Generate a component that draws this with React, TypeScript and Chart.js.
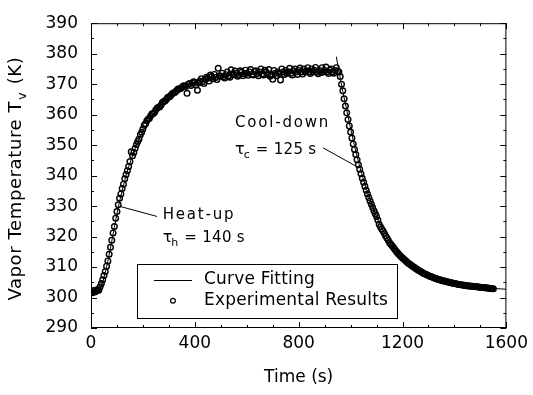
import React, { useEffect, useRef } from "react";
import { Chart, registerables } from "chart.js";

Chart.register(...registerables);

// ---------- data ----------
const expTime = [
  0, 5, 10, 15, 20, 25, 30, 35, 40, 45, 50, 55, 60, 65, 70, 75, 80, 85, 90, 95,
  100, 105, 110, 115, 120, 125, 130, 135, 140, 145, 150, 155, 160, 165, 170, 175, 180, 185, 190, 195, 200,
  210, 220, 230, 240, 250, 260, 270, 280, 290, 300, 310, 320, 330, 340, 350, 360, 370, 380, 390,
  400, 410, 420, 430, 440, 450, 460, 470, 480, 490, 500, 510, 520, 530, 540, 550, 560, 570, 580, 590,
  600, 610, 620, 630, 640, 650, 660, 670, 680, 690, 700, 710, 720, 730, 740, 750, 760, 770, 780, 790,
  800, 810, 820, 830, 840, 850, 860, 870, 880, 890, 900, 910, 920, 930, 940, 950,
  955, 960, 965, 970, 975, 980, 985, 990, 995, 1000, 1005, 1010, 1015, 1020, 1025, 1030, 1035, 1040,
  1045, 1050, 1055, 1060, 1065, 1070, 1075, 1080, 1085, 1090, 1095, 1100,
  1110, 1120, 1130, 1140, 1150, 1160, 1170, 1180, 1190, 1200, 1210, 1220, 1230, 1240, 1250, 1260,
  1270, 1280, 1290, 1300, 1310, 1320, 1330, 1340, 1350, 1360, 1370, 1380, 1390, 1400, 1410, 1420,
  1430, 1440, 1450, 1460, 1470, 1480, 1490, 1500, 1510, 1520, 1530, 1540, 1550,
];
const expTemp = [
  302.0, 301.6, 302.3, 301.8, 302.1, 302.6, 302.4, 303.5, 304.6, 305.8, 307.2, 308.5, 310.3, 312.0, 314.2, 316.5, 318.8, 321.2, 323.3, 326.0,
  328.2, 330.4, 332.6, 334.0, 335.8, 337.2, 339.0, 340.4, 341.6, 343.0, 344.6, 347.8, 346.5, 347.6, 349.0, 350.2, 351.2, 352.0, 353.4, 354.2, 355.3,
  357.0, 358.5, 359.6, 360.4, 361.6, 362.4, 363.2, 364.3, 365.0, 365.8, 366.6, 367.2, 367.9, 368.4, 368.9, 369.5, 367.0, 370.2, 370.4,
  370.6, 368.0, 371.0, 370.8, 371.6, 371.9, 373.0, 371.8, 372.2, 375.2, 372.6, 372.4, 373.1, 372.7, 374.7, 373.1, 373.5, 373.0, 373.9, 373.4,
  373.6, 374.0, 373.2, 374.1, 373.5, 374.0, 373.4, 374.6, 373.2, 372.6, 371.6, 373.6, 374.0, 371.4, 374.0, 374.5, 374.1, 373.6, 374.4, 374.0,
  374.5, 374.0, 375.0, 374.4, 374.0, 375.0, 374.6, 374.0, 374.5, 375.4, 374.5, 374.1, 374.6, 374.0, 374.5, 374.3,
  374.0, 372.5, 370.0, 367.8, 365.2, 362.8, 360.6, 358.4, 356.3, 354.3, 352.3, 350.4, 348.6, 346.9, 345.2, 343.6, 342.1, 340.6,
  339.1, 337.8, 336.5, 335.2, 334.0, 332.8, 331.7, 330.6, 329.5, 328.5, 327.5, 326.6,
  324.0, 322.5, 321.0, 319.5, 318.0, 317.0, 315.8, 314.8, 313.8, 313.0, 312.2, 311.4, 310.8, 310.2, 309.6, 309.0,
  308.5, 308.0, 307.6, 307.2, 306.8, 306.5, 306.2, 305.9, 305.6, 305.4, 305.2, 305.0, 304.8, 304.6, 304.4, 304.3,
  304.1, 304.0, 303.9, 303.8, 303.7, 303.6, 303.5, 303.4, 303.3, 303.2, 303.1, 303.0, 302.9,
];
// second, interleaved set of samples (the band in the plot is dense)
const expTime2 = [
  205, 215, 225, 235, 245, 255, 265, 275, 285, 295, 305, 315, 325, 335, 345, 355, 365, 375, 385, 395,
  405, 415, 425, 435, 445, 455, 465, 475, 485, 495, 505, 515, 525, 535, 545, 555, 565, 575, 585, 595,
  605, 615, 625, 635, 645, 655, 665, 675, 685, 695, 705, 715, 725, 735, 745, 755, 765, 775, 785, 795,
  805, 815, 825, 835, 845, 855, 865, 875, 885, 895, 905, 915, 925, 935, 945,
  1105, 1115, 1125, 1135, 1145, 1155, 1165, 1175, 1185, 1195, 1205, 1215, 1225, 1235, 1245, 1255,
  1265, 1275, 1285, 1295, 1305, 1315, 1325, 1335, 1345, 1355, 1365, 1375, 1385, 1395, 1405, 1415,
  1425, 1435, 1445, 1455, 1465, 1475, 1485, 1495, 1505, 1515, 1525, 1535, 1545,
];
const expTemp2 = [
  356.5, 358.0, 358.8, 360.3, 360.8, 362.2, 362.6, 364.0, 364.5, 365.6, 366.0, 367.0, 367.4, 368.4, 368.6, 369.4, 369.2, 370.0, 369.6, 370.8,
  369.8, 370.5, 371.8, 370.2, 372.3, 371.0, 372.5, 373.2, 371.5, 372.8, 373.6, 372.0, 374.0, 372.3, 373.3, 374.3, 372.6, 374.4, 372.8, 374.6,
  372.9, 374.8, 373.0, 374.4, 372.8, 375.0, 373.0, 374.0, 374.8, 373.0, 374.5, 372.8, 373.5, 375.0, 373.2, 373.5, 375.2, 373.0, 375.0, 373.2,
  375.3, 373.3, 374.0, 375.4, 373.5, 374.0, 375.5, 373.4, 373.8, 374.0, 375.6, 373.5, 375.0, 373.6, 375.4,
  325.4, 323.2, 321.8, 320.2, 318.8, 317.5, 316.4, 315.3, 314.3, 313.4, 312.6, 311.8, 311.1, 310.5, 309.9, 309.3,
  308.8, 308.3, 307.8, 307.4, 307.0, 306.7, 306.3, 306.0, 305.8, 305.5, 305.3, 305.1, 304.9, 304.7, 304.5, 304.3,
  304.2, 304.0, 303.9, 303.8, 303.7, 303.6, 303.5, 303.4, 303.3, 303.2, 303.1, 303.0, 302.9,
];

const fitHeatTime = [0, 30, 40, 50, 60, 70, 80, 90, 100, 110, 120, 140, 160, 180, 200, 230, 260, 300, 350, 400, 450, 500, 600, 700, 800, 945];
const fitHeatTemp = [302, 302, 303.5, 306.5, 310, 314, 318.5, 323, 327.5, 331.5, 335, 341.5, 346.5, 351, 354.5, 359, 362.5, 366, 368.8, 370.7, 371.9, 372.7, 373.5, 374, 374.3, 374.5];

const fitCoolTime = [945, 960, 980, 1000, 1020, 1040, 1060, 1080, 1100, 1130, 1160, 1200, 1250, 1300, 1350, 1400, 1450, 1500, 1550, 1600];
const fitCoolTemp = [379, 372, 363.5, 355.5, 348, 341.5, 336, 331, 326.5, 321, 317, 313, 309.5, 307.3, 305.8, 304.8, 304, 303.4, 303, 302.7];

const xMin = 0, xMax = 1600, xMajor = 400, xMinor = 100;
const yMin = 290, yMax = 390, yMajor = 10, yMinor = 5;

const xTitle = "Time (s)";
const yTitleMain = "Vapor Temperature T";
const yTitleSub = "v";
const yTitleEnd = " (K)";
const legendLabels = ["Curve Fitting", "Experimental Results"];

// annotations (data coordinates)
const heatLabel = { text: "Heat-up", tau: "τ", sub: "h", rest: " = 140 s", t: 276, T1: 327.1, T2: 319.6, from: [116, 329.8], to: [254, 326.6] };
const coolLabel = { text: "Cool-down", tau: "τ", sub: "c", rest: " = 125 s", t: 555, T1: 357.1, T2: 348.4, from: [894, 349.1], to: [1023, 343.0] };

const FONT = '"DejaVu Sans", sans-serif';

function drawText(ctx: CanvasRenderingContext2D, s: string, x: number, y: number, size: number, spacing = 0) {
  ctx.font = `${size}px ${FONT}`;
  (ctx as any).letterSpacing = `${spacing}px`;
  ctx.fillText(s, x, y);
  const w = ctx.measureText(s).width;
  (ctx as any).letterSpacing = "0px";
  return w;
}

const decorPlugin = {
  id: "decor",
  afterDatasetsDraw(chart: any) {
    const { ctx, chartArea: a, scales } = chart;
    const xs = scales.x, ys = scales.y;
    ctx.save();
    ctx.strokeStyle = "#000";
    ctx.fillStyle = "#000";
    ctx.lineWidth = 1;
    // frame
    ctx.strokeRect(a.left + 0.5, a.top + 0.5, a.right - a.left - 1, a.bottom - a.top - 1);
    // ticks on all four sides, inward
    ctx.beginPath();
    for (let v = xMin; v <= xMax; v += xMinor) {
      const px = Math.round(xs.getPixelForValue(v)) + 0.5;
      const len = v % xMajor === 0 ? 6 : 3;
      ctx.moveTo(px, a.bottom); ctx.lineTo(px, a.bottom - len);
      ctx.moveTo(px, a.top); ctx.lineTo(px, a.top + len);
    }
    for (let v = yMin; v <= yMax; v += yMinor) {
      const py = Math.round(ys.getPixelForValue(v)) + 0.5;
      const len = v % yMajor === 0 ? 6 : 3;
      ctx.moveTo(a.left, py); ctx.lineTo(a.left + len, py);
      ctx.moveTo(a.right, py); ctx.lineTo(a.right - len, py);
    }
    ctx.stroke();

    // y-axis title with subscript
    ctx.save();
    const cy = (a.top + a.bottom) / 2 + 3;
    ctx.translate(21, cy);
    ctx.rotate(-Math.PI / 2);
    ctx.textBaseline = "alphabetic";
    ctx.textAlign = "left";
    ctx.font = `18px ${FONT}`;
    (ctx as any).letterSpacing = "0.6px";
    const w1 = ctx.measureText(yTitleMain).width;
    const w3 = ctx.measureText(yTitleEnd).width;
    ctx.font = `13px ${FONT}`;
    const w2 = ctx.measureText(yTitleSub).width;
    const total = w1 + w2 + 2 + w3;
    let x0 = -total / 2;
    drawText(ctx, yTitleMain, x0, 0, 18, 0.6);
    drawText(ctx, yTitleSub, x0 + w1 + 1, 5, 13, 0.6);
    drawText(ctx, yTitleEnd, x0 + w1 + w2 + 2, 0, 18, 0.6);
    ctx.restore();

    // annotations
    ctx.textBaseline = "middle";
    ctx.textAlign = "left";
    for (const L of [heatLabel, coolLabel]) {
      ctx.beginPath();
      ctx.moveTo(xs.getPixelForValue(L.from[0]), ys.getPixelForValue(L.from[1]));
      ctx.lineTo(xs.getPixelForValue(L.to[0]), ys.getPixelForValue(L.to[1]));
      ctx.stroke();
      const lx = xs.getPixelForValue(L.t);
      drawText(ctx, L.text, lx, ys.getPixelForValue(L.T1), 15, 1.8);
      const y2 = ys.getPixelForValue(L.T2);
      const tw = drawText(ctx, L.tau, lx, y2, 16, 0);
      const sw = drawText(ctx, L.sub, lx + tw - 1, y2 + 5, 11, 0);
      drawText(ctx, L.rest, lx + tw + sw, y2, 15, 0.3);
    }

    // legend box
    const bl = xs.getPixelForValue(177), br = xs.getPixelForValue(1177);
    const bt = ys.getPixelForValue(311.1), bb = ys.getPixelForValue(293.5);
    ctx.fillStyle = "#fff";
    ctx.fillRect(bl, bt, br - bl, bb - bt);
    ctx.fillStyle = "#000";
    ctx.strokeRect(Math.round(bl) + 0.5, Math.round(bt) + 0.5, Math.round(br - bl), Math.round(bb - bt));
    const r1 = bt + 16, r2 = bt + 37;
    ctx.beginPath();
    ctx.moveTo(bl + 17, Math.round(r1) + 0.5);
    ctx.lineTo(bl + 55, Math.round(r1) + 0.5);
    ctx.stroke();
    ctx.beginPath();
    ctx.arc(bl + 36, r2, 2.4, 0, Math.PI * 2);
    ctx.lineWidth = 1.2;
    ctx.stroke();
    ctx.lineWidth = 1;
    drawText(ctx, legendLabels[0], bl + 67, r1, 17, 0.2);
    drawText(ctx, legendLabels[1], bl + 67, r2, 17, 0.2);
    ctx.restore();
  },
};

export default function App() {
  const ref = useRef<HTMLCanvasElement | null>(null);
  useEffect(() => {
    if (!ref.current) return;
    const pts = expTime.map((t, i) => ({ x: t, y: expTemp[i] }))
      .concat(expTime2.map((t, i) => ({ x: t, y: expTemp2[i] })));
    const heat = fitHeatTime.map((t, i) => ({ x: t, y: fitHeatTemp[i] }));
    const cool = fitCoolTime.map((t, i) => ({ x: t, y: fitCoolTemp[i] }));
    const tickFont = { family: FONT, size: 17 };
    const chart = new Chart(ref.current, {
      type: "scatter",
      data: {
        datasets: [
          {
            data: heat, showLine: true, pointRadius: 0, borderColor: "#000", borderWidth: 1,
            cubicInterpolationMode: "monotone", order: 1,
          } as any,
          {
            data: cool, showLine: true, pointRadius: 0, borderColor: "#000", borderWidth: 1,
            cubicInterpolationMode: "monotone", order: 1,
          } as any,
          {
            data: pts, showLine: false, pointRadius: 2.8, pointBorderWidth: 1.4,
            pointBorderColor: "#000", pointBackgroundColor: "rgba(255,255,255,0)", order: 2,
          } as any,
        ],
      },
      options: {
        responsive: false,
        animation: false,
        devicePixelRatio: 1,
        layout: { padding: { top: 15, right: 18, left: 0, bottom: 0 } },
        plugins: { legend: { display: false }, tooltip: { enabled: false } },
        scales: {
          x: {
            type: "linear", min: xMin, max: xMax,
            afterFit: (s: any) => { s.height = 67; },
            grid: { display: false, drawTicks: false },
            border: { display: false },
            ticks: { stepSize: xMajor, padding: 5, color: "#000", font: tickFont, maxRotation: 0, callback: (v: any) => String(v) },
            title: { display: true, text: xTitle, color: "#000", font: tickFont, padding: { top: 0, bottom: 7 } },
          },
          y: {
            type: "linear", min: yMin, max: yMax,
            afterFit: (s: any) => { s.width = 91; },
            grid: { display: false, drawTicks: false },
            border: { display: false },
            ticks: { stepSize: yMajor, padding: 13, color: "#000", font: tickFont, callback: (v: any) => String(v) },
          },
        },
      } as any,
      plugins: [decorPlugin],
    });
    return () => chart.destroy();
  }, []);
  return (
    <div style={{ position: "absolute", left: 0, top: 0, width: 533, height: 395, background: "#fff" }}>
      <canvas ref={ref} width={533} height={395} style={{ display: "block" }} />
    </div>
  );
}
